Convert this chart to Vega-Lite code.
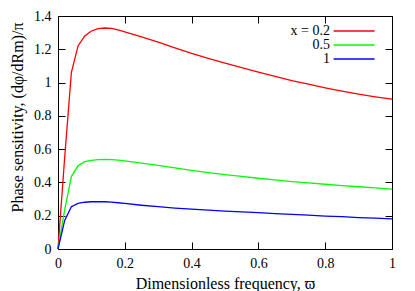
{
  "$schema": "https://vega.github.io/schema/vega-lite/v6.json",
  "width": 334,
  "height": 233,
  "autosize": "none",
  "padding": {"left": 58, "top": 16, "right": 23, "bottom": 42},
  "background": "white",
  "config": {
    "font": "Liberation Serif, Times New Roman, serif",
    "view": {"stroke": "black", "strokeWidth": 1},
    "axis": {
      "grid": false,
      "domain": false,
      "tickColor": "black",
      "tickSize": -7,
      "tickWidth": 1,
      "labelFont": "Liberation Serif, Times New Roman, serif",
      "labelFontSize": 14,
      "labelColor": "black",
      "titleFont": "Liberation Serif, Times New Roman, serif",
      "titleFontSize": 16,
      "titleFontWeight": "normal",
      "titleColor": "black"
    }
  },
  "data": {"values": [
    {"w": 0, "s": "x = 0.2", "p": 0},
    {"w": 0.02, "s": "x = 0.2", "p": 0.55},
    {"w": 0.04, "s": "x = 0.2", "p": 1.06},
    {"w": 0.06, "s": "x = 0.2", "p": 1.22},
    {"w": 0.08, "s": "x = 0.2", "p": 1.28},
    {"w": 0.1, "s": "x = 0.2", "p": 1.31},
    {"w": 0.12, "s": "x = 0.2", "p": 1.324},
    {"w": 0.14, "s": "x = 0.2", "p": 1.328},
    {"w": 0.16, "s": "x = 0.2", "p": 1.326},
    {"w": 0.18, "s": "x = 0.2", "p": 1.317},
    {"w": 0.2, "s": "x = 0.2", "p": 1.304},
    {"w": 0.25, "s": "x = 0.2", "p": 1.275},
    {"w": 0.3, "s": "x = 0.2", "p": 1.243},
    {"w": 0.35, "s": "x = 0.2", "p": 1.208},
    {"w": 0.4, "s": "x = 0.2", "p": 1.175},
    {"w": 0.45, "s": "x = 0.2", "p": 1.145},
    {"w": 0.5, "s": "x = 0.2", "p": 1.117},
    {"w": 0.55, "s": "x = 0.2", "p": 1.09},
    {"w": 0.6, "s": "x = 0.2", "p": 1.063},
    {"w": 0.65, "s": "x = 0.2", "p": 1.037},
    {"w": 0.7, "s": "x = 0.2", "p": 1.012},
    {"w": 0.75, "s": "x = 0.2", "p": 0.99},
    {"w": 0.8, "s": "x = 0.2", "p": 0.968},
    {"w": 0.85, "s": "x = 0.2", "p": 0.948},
    {"w": 0.9, "s": "x = 0.2", "p": 0.93},
    {"w": 0.95, "s": "x = 0.2", "p": 0.914},
    {"w": 1, "s": "x = 0.2", "p": 0.9},
    {"w": 0, "s": "0.5", "p": 0},
    {"w": 0.02, "s": "0.5", "p": 0.235},
    {"w": 0.04, "s": "0.5", "p": 0.435},
    {"w": 0.06, "s": "0.5", "p": 0.5},
    {"w": 0.08, "s": "0.5", "p": 0.525},
    {"w": 0.1, "s": "0.5", "p": 0.533},
    {"w": 0.12, "s": "0.5", "p": 0.537},
    {"w": 0.14, "s": "0.5", "p": 0.538},
    {"w": 0.16, "s": "0.5", "p": 0.537},
    {"w": 0.18, "s": "0.5", "p": 0.534},
    {"w": 0.2, "s": "0.5", "p": 0.529},
    {"w": 0.25, "s": "0.5", "p": 0.516},
    {"w": 0.3, "s": "0.5", "p": 0.502},
    {"w": 0.35, "s": "0.5", "p": 0.487},
    {"w": 0.4, "s": "0.5", "p": 0.473},
    {"w": 0.45, "s": "0.5", "p": 0.459},
    {"w": 0.5, "s": "0.5", "p": 0.447},
    {"w": 0.55, "s": "0.5", "p": 0.436},
    {"w": 0.6, "s": "0.5", "p": 0.425},
    {"w": 0.65, "s": "0.5", "p": 0.415},
    {"w": 0.7, "s": "0.5", "p": 0.405},
    {"w": 0.75, "s": "0.5", "p": 0.397},
    {"w": 0.8, "s": "0.5", "p": 0.389},
    {"w": 0.85, "s": "0.5", "p": 0.381},
    {"w": 0.9, "s": "0.5", "p": 0.374},
    {"w": 0.95, "s": "0.5", "p": 0.367},
    {"w": 1, "s": "0.5", "p": 0.36},
    {"w": 0, "s": "1", "p": 0},
    {"w": 0.02, "s": "1", "p": 0.172},
    {"w": 0.04, "s": "1", "p": 0.254},
    {"w": 0.06, "s": "1", "p": 0.274},
    {"w": 0.08, "s": "1", "p": 0.281},
    {"w": 0.1, "s": "1", "p": 0.284},
    {"w": 0.12, "s": "1", "p": 0.285},
    {"w": 0.14, "s": "1", "p": 0.284},
    {"w": 0.16, "s": "1", "p": 0.282},
    {"w": 0.18, "s": "1", "p": 0.278},
    {"w": 0.2, "s": "1", "p": 0.274},
    {"w": 0.25, "s": "1", "p": 0.263},
    {"w": 0.3, "s": "1", "p": 0.254},
    {"w": 0.35, "s": "1", "p": 0.246},
    {"w": 0.4, "s": "1", "p": 0.24},
    {"w": 0.45, "s": "1", "p": 0.234},
    {"w": 0.5, "s": "1", "p": 0.228},
    {"w": 0.55, "s": "1", "p": 0.223},
    {"w": 0.6, "s": "1", "p": 0.218},
    {"w": 0.65, "s": "1", "p": 0.213},
    {"w": 0.7, "s": "1", "p": 0.208},
    {"w": 0.75, "s": "1", "p": 0.203},
    {"w": 0.8, "s": "1", "p": 0.198},
    {"w": 0.85, "s": "1", "p": 0.194},
    {"w": 0.9, "s": "1", "p": 0.189},
    {"w": 0.95, "s": "1", "p": 0.185},
    {"w": 1, "s": "1", "p": 0.181}
  ]},
  "resolve": {"axis": {"x": "independent", "y": "independent"}},
  "layer": [
    {
      "mark": {"type": "line", "strokeWidth": 1.3},
      "encoding": {
        "x": {"field": "w", "type": "quantitative",
              "scale": {"domain": [0, 1], "nice": false},
              "axis": {"orient": "bottom", "values": [0, 0.2, 0.4, 0.6, 0.8, 1], "format": ".1~f", "labelPadding": 14, "labelFlush": false, "title": "Dimensionless frequency, ϖ", "titlePadding": 5}},
        "y": {"field": "p", "type": "quantitative",
              "scale": {"domain": [0, 1.4], "nice": false},
              "axis": {"orient": "left", "values": [0, 0.2, 0.4, 0.6, 0.8, 1, 1.2, 1.4], "format": ".1~f", "labelPadding": 14, "labelFlush": false, "title": "Phase sensitivity, (dφ/dRm)/π", "titlePadding": 8, "titleY": 101}},
        "color": {"field": "s", "type": "nominal",
                  "scale": {"domain": ["x = 0.2", "0.5", "1"], "range": ["#ff0000", "#00ff00", "#0000ff"]},
                  "legend": {"orient": "none", "legendX": 198, "legendY": 8, "title": null, "padding": 0,
                             "symbolType": "M35.3,0H55.8", "symbolSize": 16, "symbolStrokeWidth": 1.3,
                             "labelAlign": "right", "labelOffset": 60, "rowPadding": -1.5,
                             "labelFont": "Liberation Serif, Times New Roman, serif", "labelFontSize": 14, "labelFontWeight": "normal", "labelColor": "black"}}
      }
    },
    {
      "mark": {"type": "line", "strokeOpacity": 0},
      "encoding": {
        "x": {"field": "w", "type": "quantitative",
              "axis": {"orient": "top", "values": [0, 0.2, 0.4, 0.6, 0.8, 1], "labels": false, "title": null}},
        "y": {"field": "p", "type": "quantitative",
              "axis": {"orient": "right", "values": [0, 0.2, 0.4, 0.6, 0.8, 1, 1.2, 1.4], "labels": false, "title": null}},
        "detail": {"field": "s"}
      }
    }
  ]
}
